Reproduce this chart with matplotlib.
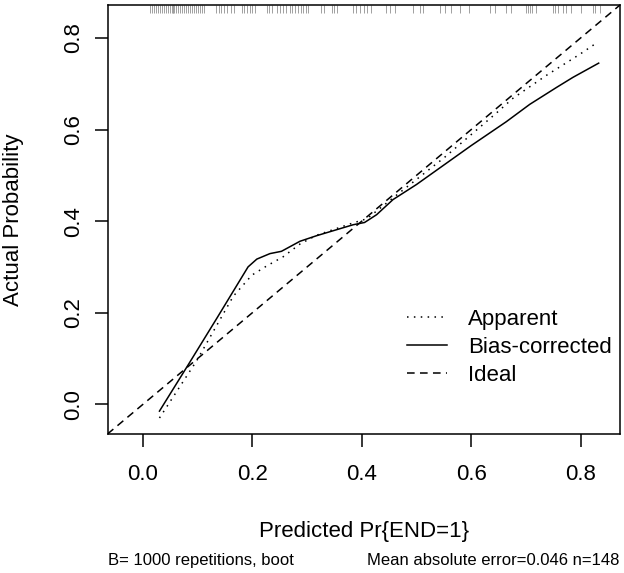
import matplotlib
matplotlib.use("Agg")
import matplotlib.pyplot as plt

plt.rcParams['font.family'] = ['Liberation Sans', 'DejaVu Sans']

# calibration curves
app_x = [0.030, 0.098, 0.165, 0.199, 0.226, 0.256, 0.287, 0.317, 0.384, 0.409,
         0.469, 0.550, 0.646, 0.676, 0.737, 0.798, 0.829]
app_y = [-0.030, 0.095, 0.236, 0.282, 0.302, 0.322, 0.350, 0.369, 0.396, 0.405,
         0.462, 0.538, 0.636, 0.668, 0.718, 0.764, 0.789]

bc_x = [0.030, 0.083, 0.135, 0.192, 0.208, 0.232, 0.253, 0.287, 0.317, 0.384,
        0.405, 0.427, 0.457, 0.500, 0.600, 0.664, 0.707, 0.756, 0.786, 0.833]
bc_y = [-0.015, 0.087, 0.188, 0.300, 0.317, 0.329, 0.334, 0.356, 0.368, 0.392,
        0.397, 0.414, 0.447, 0.480, 0.565, 0.617, 0.655, 0.692, 0.714, 0.745]

# predicted probabilities shown as the rug along the top
rug = [0.013, 0.016, 0.020, 0.024, 0.027, 0.031, 0.035, 0.038, 0.042, 0.046,
       0.049, 0.053, 0.054, 0.055, 0.057, 0.060, 0.064, 0.068, 0.071, 0.075,
       0.079, 0.082, 0.086, 0.089, 0.093, 0.097, 0.100, 0.104, 0.108, 0.112,
       0.133, 0.138, 0.143, 0.148, 0.154, 0.161, 0.166, 0.181, 0.185, 0.190,
       0.195, 0.199, 0.205, 0.226, 0.231, 0.236, 0.244, 0.250, 0.256, 0.262,
       0.268, 0.273, 0.278, 0.283, 0.288, 0.293, 0.298, 0.302, 0.326, 0.331,
       0.345, 0.349, 0.354, 0.384, 0.389, 0.396, 0.404, 0.409, 0.416, 0.445,
       0.452, 0.460, 0.494, 0.507, 0.512, 0.542, 0.552, 0.563, 0.579, 0.596,
       0.634, 0.643, 0.663, 0.673, 0.700, 0.704, 0.708, 0.712, 0.719, 0.749,
       0.753, 0.758, 0.767, 0.774, 0.783, 0.800, 0.822, 0.827, 0.835]

ticks = [0.0, 0.2, 0.4, 0.6, 0.8]
lims = (-0.065, 0.872)

fig = plt.figure(figsize=(6.24, 5.73), dpi=100)
ax = fig.add_axes([107.5/624, 1-434/573, 512.5/624, 429/573])

ax.plot(app_x, app_y, color='black', lw=1.1, linestyle=(0, (1, 3.5)), label='Apparent')
ax.plot(bc_x, bc_y, color='black', lw=1.1, label='Bias-corrected')
ax.axline((0, 0), slope=1, color='black', lw=1.1, linestyle=(0, (5, 3.5)), label='Ideal')

ax.vlines(rug, 0.981, 1.0, transform=ax.get_xaxis_transform(), color='#a0a0a0', lw=0.7)

ax.set_xlim(lims)
ax.set_ylim(lims)
ax.set_xticks(ticks)
ax.set_yticks(ticks)
ax.set_xticklabels(['%.1f' % t for t in ticks])
ax.set_yticklabels(['%.1f' % t for t in ticks])
ax.tick_params(direction='out', length=9.5, width=1.1, labelsize=16, color='black')
ax.tick_params(axis='x', pad=12)
ax.tick_params(axis='y', pad=7)
plt.setp(ax.get_yticklabels(), rotation=90, va='center')
for s in ax.spines.values():
    s.set_linewidth(1.1)

ax.set_xlabel('Predicted Pr{END=1}', fontsize=16, va='baseline')
ax.xaxis.set_label_coords(0.5, -(537-434)/429)
ax.set_ylabel('Actual Probability', fontsize=16, va='baseline', ha='center',
              rotation_mode='anchor')
ax.yaxis.set_label_coords((19-107.5)/512.5, 0.5)

ax.legend(loc='upper left', bbox_to_anchor=(407/624, 1-309/573),
          bbox_transform=fig.transFigure, frameon=False, fontsize=16,
          handlelength=1.8, handletextpad=0.95, labelspacing=0.32, borderpad=0,
          borderaxespad=0)

fig.text(107.5/624, 1-565/573, 'B= 1000 repetitions, boot', fontsize=12,
         ha='left', va='baseline')
fig.text(619/624, 1-565/573, 'Mean absolute error=0.046 n=148', fontsize=12,
         ha='right', va='baseline')

fig.savefig('out.png', dpi=100)
